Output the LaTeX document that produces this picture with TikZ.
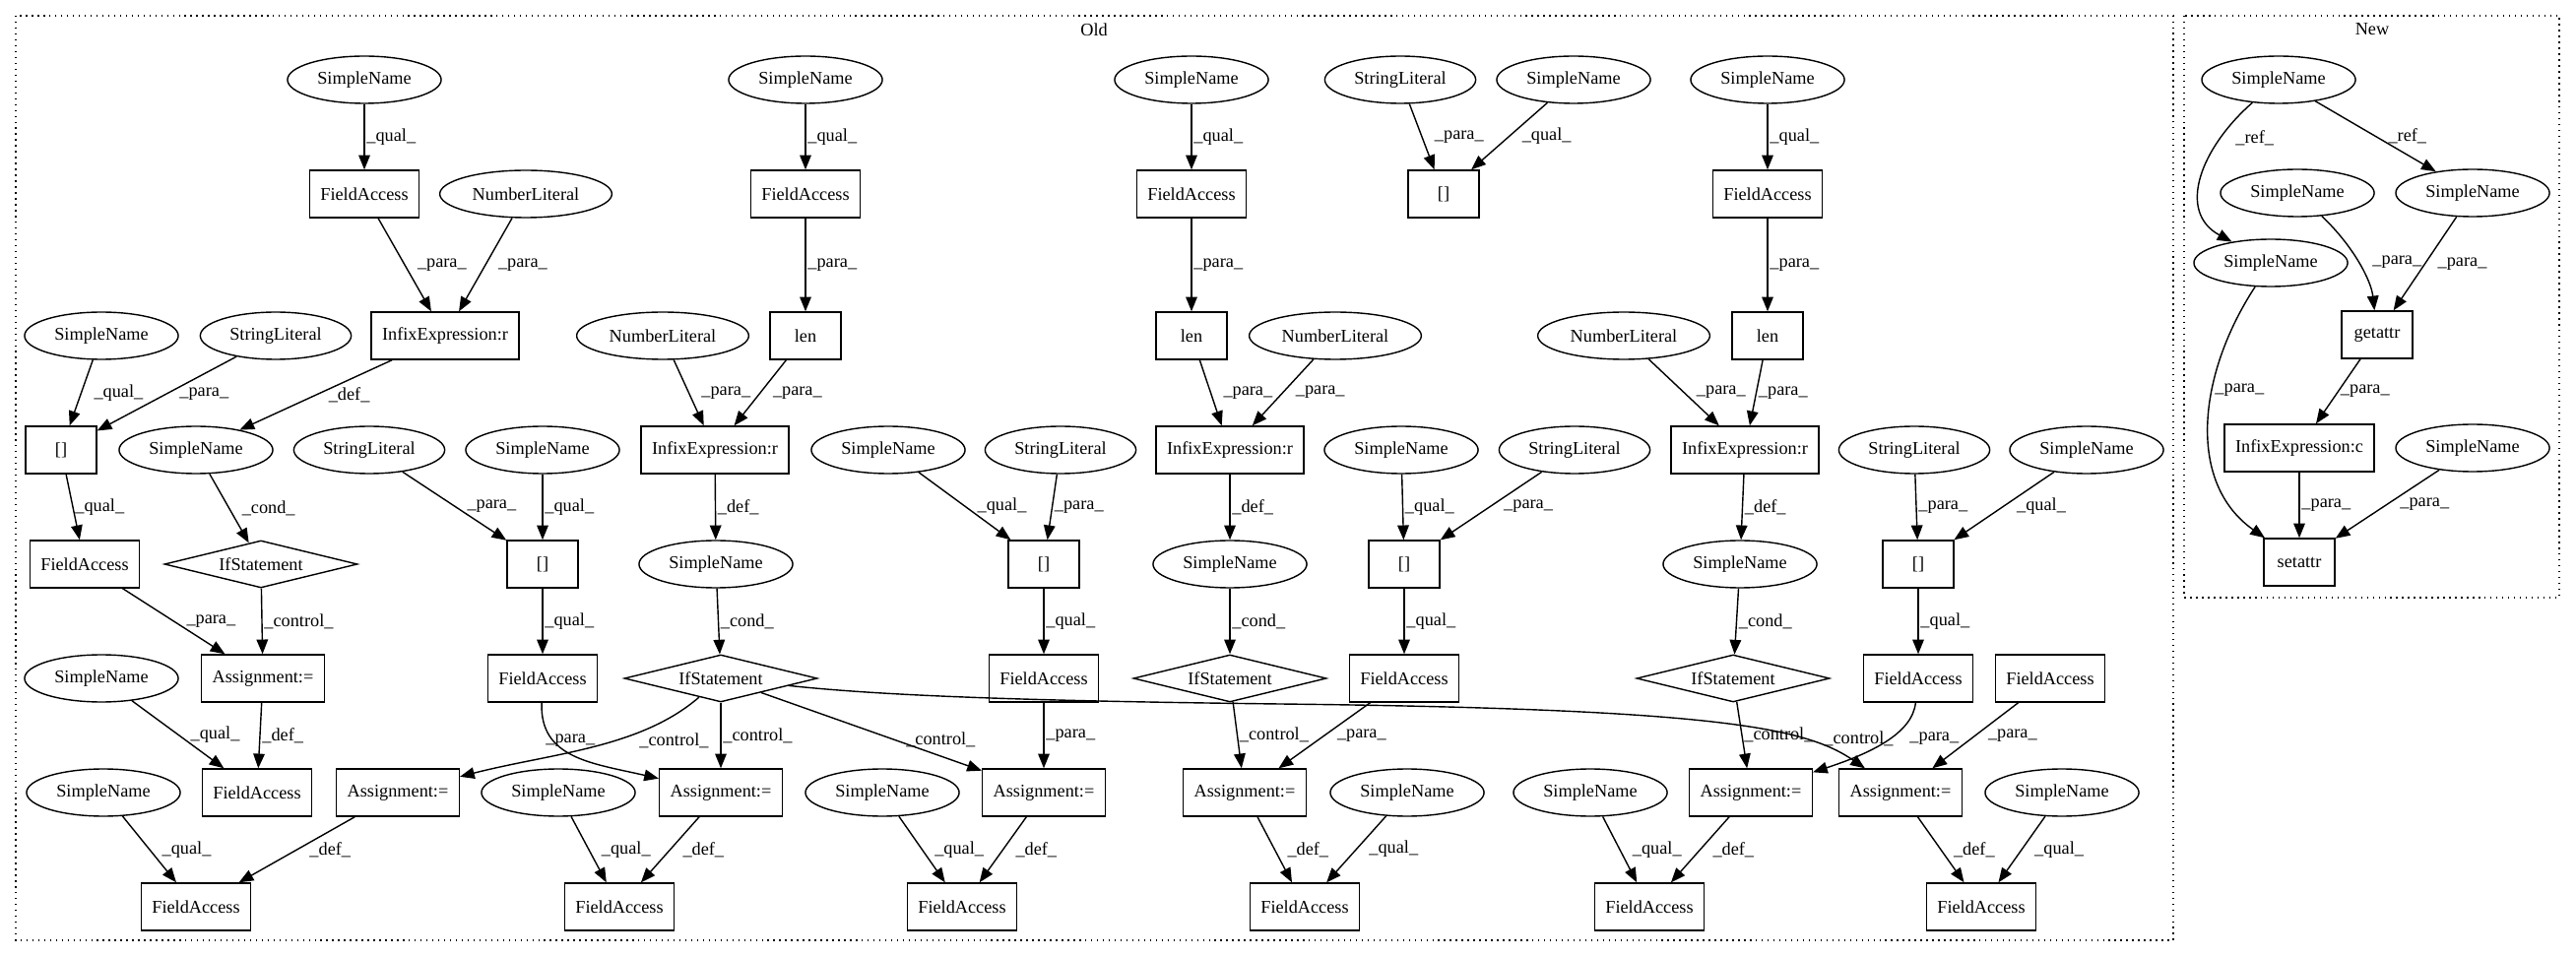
\documentclass[tikz,border=0pt]{standalone}
\usepackage{fontspec}
\setmainfont{Liberation Serif}
\usetikzlibrary{arrows.meta,shapes.geometric}

\begin{document}
\begin{tikzpicture}[x=0.02cm, y=-0.02cm, font=\fontsize{10.4}{12}\selectfont,
    >={Triangle[length=8.4pt,width=6.6pt]}, line width=0.8pt,
    expr/.style={ draw, rectangle, minimum width=1.44cm, minimum
        height=0.96cm, inner xsep=0.22cm, inner ysep=0pt },
    leaf/.style={ draw, ellipse, minimum height=0.96cm, inner xsep=0.15cm,
        inner ysep=0pt },
    decision/.style={ draw, diamond, aspect=4, minimum width=3.92cm, minimum
        height=0.96cm, inner sep=0pt },
    arrow/.style={->}, lab/.style={anchor=west, inner sep=1pt},
    dlab/.style={lab, xshift=6pt},
    cluster/.style={draw, dash pattern=on 0.8pt off 2.6pt} ]

    \useasboundingbox (0,0) rectangle (2616,972);
    \draw[cluster] (16,16) rectangle (2207,955);
    \draw[cluster] (2218,16) rectangle (2599,607);
    \node (oldtitle) at (1111,30) {Old}; \node (newtitle) at (2409,30) {New};

    \node[leaf] (snA) at (370,81) {SimpleName}; \node[leaf] (snB) at (818,81)
    {SimpleName}; \node[leaf] (snC) at (1210,81) {SimpleName}; \node[leaf]
    (strT) at (1422,81) {StringLiteral}; \node[leaf] (snT) at (1598,81)
    {SimpleName}; \node[leaf] (snD) at (1795,81) {SimpleName};

    \node[expr] (faA) at (370,197) {FieldAccess}; \node[leaf] (numA) at
    (534,197) {NumberLiteral}; \node[expr] (faB) at (818,197) {FieldAccess};
    \node[expr] (faC) at (1210,197) {FieldAccess}; \node[expr] (idxT) at
    (1466,197) {[]}; \node[expr] (faD) at (1795,197) {FieldAccess};

    \node[leaf] (snL) at (103,341) {SimpleName}; \node[leaf] (strL) at
    (280,341) {StringLiteral}; \node[expr] (infA) at (452,341)
    {InfixExpression:r}; \node[leaf] (numB) at (673,341) {NumberLiteral};
    \node[expr] (lenB) at (818,341) {len}; \node[expr] (lenC) at (1210,341)
    {len}; \node[leaf] (numC) at (1356,341) {NumberLiteral}; \node[leaf]
    (numD) at (1649,341) {NumberLiteral}; \node[expr] (lenD) at (1795,341)
    {len};

    \node[expr] (idxL) at (62,457) {[]}; \node[leaf] (condA) at (199,457)
    {SimpleName}; \node[leaf] (strB) at (375,457) {StringLiteral};
    \node[leaf] (snB2) at (551,457) {SimpleName}; \node[expr] (infB) at
    (726,457) {InfixExpression:r}; \node[leaf] (snC3) at (902,457)
    {SimpleName}; \node[leaf] (strC3) at (1077,457) {StringLiteral};
    \node[expr] (infC) at (1249,457) {InfixExpression:r}; \node[leaf] (snC4)
    at (1423,457) {SimpleName}; \node[leaf] (strC4) at (1599,457)
    {StringLiteral}; \node[expr] (infD) at (1772,457) {InfixExpression:r};
    \node[leaf] (strD) at (1944,457) {StringLiteral}; \node[leaf] (snD2) at
    (2119,457) {SimpleName};

    \node[expr] (faL) at (86,573) {FieldAccess}; \node[decision] (ifA) at
    (265,573) {IfStatement}; \node[expr] (idxB) at (551,573) {[]};
    \node[leaf] (condB) at (727,573) {SimpleName}; \node[expr] (idxC) at
    (1060,573) {[]}; \node[leaf] (condC) at (1249,573) {SimpleName};
    \node[expr] (idxC2) at (1426,573) {[]}; \node[leaf] (condD) at (1767,573)
    {SimpleName}; \node[expr] (idxD) at (1948,573) {[]};

    \node[leaf] (snL2) at (103,689) {SimpleName}; \node[expr] (asgA) at
    (267,689) {Assignment:=}; \node[expr] (faB2) at (551,689) {FieldAccess};
    \node[decision] (ifB) at (732,689) {IfStatement}; \node[expr] (faC2) at
    (1060,689) {FieldAccess}; \node[decision] (ifC) at (1249,689)
    {IfStatement}; \node[expr] (faC3) at (1426,689) {FieldAccess};
    \node[decision] (ifD) at (1760,689) {IfStatement}; \node[expr] (faD2) at
    (1948,689) {FieldAccess}; \node[expr] (faD3) at (2082,689)
    {FieldAccess};

    \node[leaf] (snL3) at (105,805) {SimpleName}; \node[expr] (faA2) at
    (261,805) {FieldAccess}; \node[expr] (asgB) at (404,805) {Assignment:=};
    \node[leaf] (snX) at (567,805) {SimpleName}; \node[expr] (asgC) at
    (732,805) {Assignment:=}; \node[leaf] (snY) at (896,805) {SimpleName};
    \node[expr] (asgD) at (1060,805) {Assignment:=}; \node[expr] (asgE) at
    (1264,805) {Assignment:=}; \node[leaf] (snZ) at (1429,805) {SimpleName};
    \node[leaf] (snW) at (1615,805) {SimpleName}; \node[expr] (asgF) at
    (1778,805) {Assignment:=}; \node[expr] (asgG) at (1930,805)
    {Assignment:=}; \node[leaf] (snV) at (2094,805) {SimpleName};

    \node[expr] (faOut1) at (199,921) {FieldAccess}; \node[expr] (faOut2) at
    (629,921) {FieldAccess}; \node[expr] (faOut3) at (977,921) {FieldAccess};
    \node[expr] (faOut4) at (1325,921) {FieldAccess}; \node[expr] (faOut5) at
    (1675,921) {FieldAccess}; \node[expr] (faOut6) at (2012,921)
    {FieldAccess};

    \node[leaf] (nRoot) at (2314,81) {SimpleName}; \node[leaf] (nArg) at
    (2333,196) {SimpleName}; \node[leaf] (nRef) at (2511,196) {SimpleName};
    \node[leaf] (nObj) at (2306,267) {SimpleName}; \node[expr] (nGet) at
    (2414,340) {getattr}; \node[expr] (nInf) at (2335,455)
    {InfixExpression:c}; \node[leaf] (nVal) at (2511,455) {SimpleName};
    \node[expr] (nSet) at (2335,571) {setattr};

    \draw[arrow] (snA) -- node[lab]{\_qual\_} (faA); \draw[arrow] (faA) --
    node[dlab]{\_para\_} (infA); \draw[arrow] (numA) -- node[dlab]{\_para\_}
    (infA); \draw[arrow] (snL) -- node[dlab]{\_qual\_} (idxL); \draw[arrow]
    (strL) -- node[dlab]{\_para\_} (idxL); \draw[arrow] (infA) --
    node[dlab]{\_def\_} (condA); \draw[arrow] (snB) -- node[lab]{\_qual\_}
    (faB); \draw[arrow] (faB) -- node[lab]{\_para\_} (lenB); \draw[arrow]
    (numB) -- node[dlab]{\_para\_} (infB); \draw[arrow] (lenB) --
    node[dlab]{\_para\_} (infB); \draw[arrow] (idxL) -- node[lab]{\_qual\_}
    (faL); \draw[arrow] (condA) -- node[dlab]{\_cond\_} (ifA); \draw[arrow]
    (strB) -- node[dlab]{\_para\_} (idxB); \draw[arrow] (snB2) --
    node[lab]{\_qual\_} (idxB); \draw[arrow] (infB) -- node[lab]{\_def\_}
    (condB); \draw[arrow] (faL) -- node[dlab]{\_para\_} (asgA); \draw[arrow]
    (ifA) -- node[lab]{\_control\_} (asgA); \draw[arrow] (idxB) --
    node[lab]{\_qual\_} (faB2); \draw[arrow] (condB) -- node[lab]{\_cond\_}
    (ifB); \draw[arrow] (snL2) -- node[dlab]{\_qual\_} (faA2); \draw[arrow]
    (asgA) -- node[lab]{\_def\_} (faA2); \draw[arrow] (snL3) --
    node[dlab]{\_qual\_} (faOut1); \draw[arrow] (asgB) -- node[dlab]{\_def\_}
    (faOut1); \draw[arrow] (snX) -- node[dlab]{\_qual\_} (faOut2);
    \draw[arrow] (asgC) -- node[dlab]{\_def\_} (faOut2);

    \draw[arrow] (faB2) .. controls (548,770) and (600,775) .. (asgC)
    node[lab] at (552,752) {\_para\_}; \draw[arrow] (ifB) .. controls
    (650,760) and (560,765) .. (asgB) node[lab] at (647,752) {\_control\_};
    \draw[arrow] (ifB) -- node[lab]{\_control\_} (asgC); \draw[arrow] (ifB) --
    node[dlab,pos=0.6]{\_control\_} (asgD); \draw[arrow] (ifB) .. controls
    (900,707) and (1050,712) .. (1300,715) .. controls (1750,720) and
    (1835,740) .. (asgG) node[lab] at (1850,750) {\_control\_};

    \draw[arrow] (snC) -- node[lab]{\_qual\_} (faC); \draw[arrow] (faC) --
    node[lab]{\_para\_} (lenC); \draw[arrow] (strT) -- node[dlab]{\_para\_}
    (idxT); \draw[arrow] (snT) -- node[dlab]{\_qual\_} (idxT); \draw[arrow]
    (lenC) -- node[dlab]{\_para\_} (infC); \draw[arrow] (numC) --
    node[dlab]{\_para\_} (infC); \draw[arrow] (numD) -- node[dlab]{\_para\_}
    (infD); \draw[arrow] (lenD) -- node[lab]{\_para\_} (infD); \draw[arrow]
    (snD) -- node[lab]{\_qual\_} (faD); \draw[arrow] (faD) --
    node[lab]{\_para\_} (lenD); \draw[arrow] (snC3) -- node[dlab]{\_qual\_}
    (idxC); \draw[arrow] (strC3) -- node[lab]{\_para\_} (idxC); \draw[arrow]
    (infC) -- node[lab]{\_def\_} (condC); \draw[arrow] (snC4) --
    node[lab]{\_qual\_} (idxC2); \draw[arrow] (strC4) -- node[dlab]{\_para\_}
    (idxC2); \draw[arrow] (idxC) -- node[lab]{\_qual\_} (faC2); \draw[arrow]
    (condC) -- node[lab]{\_cond\_} (ifC); \draw[arrow] (idxC2) --
    node[lab]{\_qual\_} (faC3); \draw[arrow] (faC2) -- node[lab]{\_para\_}
    (asgD); \draw[arrow] (ifC) -- node[lab]{\_control\_} (asgE);
    \draw[arrow] (faC3) -- node[dlab]{\_para\_} (asgE); \draw[arrow] (snY) --
    node[dlab]{\_qual\_} (faOut3); \draw[arrow] (asgD) -- node[dlab]{\_def\_}
    (faOut3); \draw[arrow] (asgE) -- node[dlab]{\_def\_} (faOut4);
    \draw[arrow] (snZ) -- node[dlab]{\_qual\_} (faOut4); \draw[arrow] (snW)
    -- node[dlab]{\_qual\_} (faOut5); \draw[arrow] (asgF) --
    node[dlab]{\_def\_} (faOut5);

    \draw[arrow] (infD) -- node[lab]{\_def\_} (condD); \draw[arrow] (strD) --
    node[lab]{\_para\_} (idxD); \draw[arrow] (snD2) -- node[dlab]{\_qual\_}
    (idxD); \draw[arrow] (condD) -- node[lab]{\_cond\_} (ifD); \draw[arrow]
    (idxD) -- node[lab]{\_qual\_} (faD2); \draw[arrow] (ifD) --
    node[lab]{\_control\_} (asgF); \draw[arrow] (faD2) .. controls (1942,745)
    and (1900,765) .. (asgF) node[lab] at (1937,750) {\_para\_};
    \draw[arrow] (faD3) -- node[dlab]{\_para\_} (asgG); \draw[arrow] (asgG)
    -- node[dlab]{\_def\_} (faOut6); \draw[arrow] (snV) --
    node[dlab]{\_qual\_} (faOut6);

    \draw[arrow] (nRoot) .. controls (2235,150) and (2210,215) .. (nObj)
    node[lab] at (2268,140) {\_ref\_}; \draw[arrow] (nRoot) --
    node[dlab]{\_ref\_} (nRef); \draw[arrow] (nArg) .. controls (2390,250)
    and (2408,285) .. (nGet) node[lab] at (2407,266) {\_para\_};
    \draw[arrow] (nRef) -- node[dlab]{\_para\_} (nGet); \draw[arrow] (nGet)
    -- node[lab]{\_para\_} (nInf); \draw[arrow] (nObj) .. controls
    (2232,380) and (2220,490) .. (nSet) node[lab] at (2247,396)
    {\_para\_}; \draw[arrow] (nInf) -- node[lab]{\_para\_} (nSet);
    \draw[arrow] (nVal) -- node[dlab]{\_para\_} (nSet);

\end{tikzpicture}
\end{document}
